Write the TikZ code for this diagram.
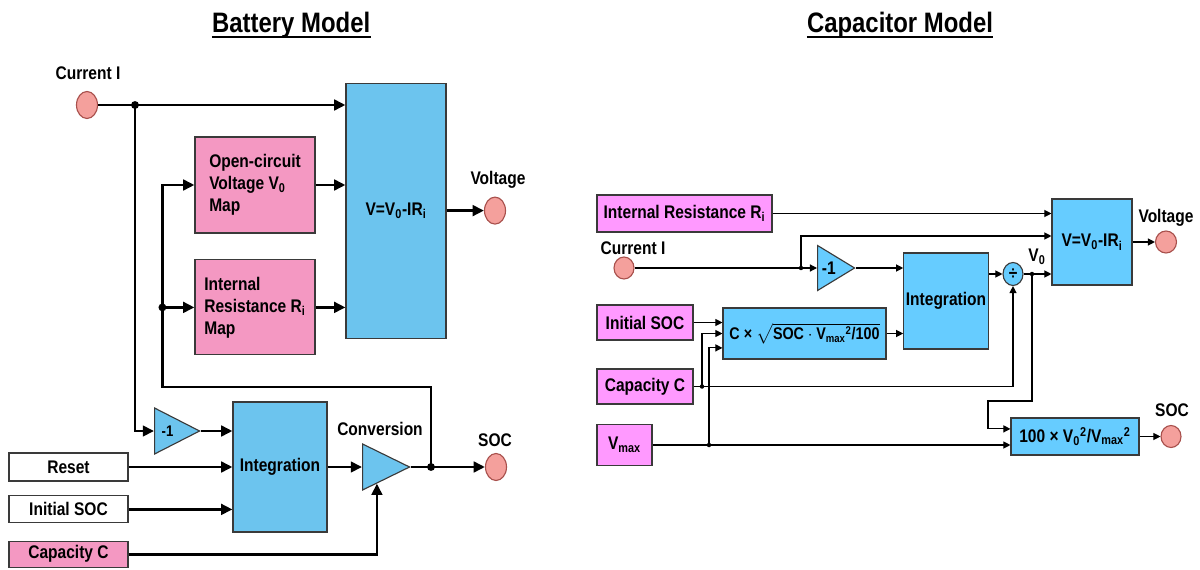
\documentclass[tikz,border=0pt]{standalone}
\usepackage{amsmath}
\usepackage{fontspec}
\setmainfont{Liberation Sans}[FakeStretch=0.85]
\usetikzlibrary{arrows.meta, calc, shapes.geometric}
\definecolor{c1}{HTML}{000000}
\definecolor{c2}{HTML}{3A3A3A}
\definecolor{c3}{HTML}{6CC4EE}
\definecolor{c4}{HTML}{66CCFF}
\definecolor{c5}{HTML}{F498C2}
\definecolor{c6}{HTML}{FF99FF}
\definecolor{c7}{HTML}{F4A09C}
\definecolor{c8}{HTML}{A8504C}

\begin{document}
\begin{tikzpicture}[
    every node/.style={font=\fontsize{13}{15.6}\selectfont\bfseries, text=c1},
    title/.style={font=\fontsize{20}{24}\selectfont\bfseries, inner sep=0pt, anchor=base},
    rule/.style={line width=1.3pt, color=c1},
    lwire/.style={line width=2pt, color=c1},
    larr/.style={lwire, -{Triangle[length=8pt, width=7.5pt]}},
    rwire/.style={line width=0.8pt, color=c1},
    rarr/.style={rwire, -{Triangle[length=5pt, width=5pt]}},
    box/.style={rectangle, draw=c2, line width=0.8pt, inner sep=1.5pt, align=center},
    port/.style={ellipse, draw=c8, fill=c7, line width=0.8pt, inner sep=0pt},
    gain/.style={isosceles triangle, isosceles triangle stretches, draw=c2,
        line width=0.8pt, inner sep=0pt, anchor=west},
]
\useasboundingbox (0, 0) rectangle (30, 14.225);

% ============================================================ battery model
\node[title] (btitle) at (7.28, 13.4) {Battery Model};
\draw[rule] ([yshift=-3pt]btitle.base west) -- ([yshift=-3pt]btitle.base east);

\node[port, minimum width=0.525cm, minimum height=0.675cm] (cur) at (2.175, 11.6) {};
\node (curlab) at (2.2, 12.4) {Current I};

\node[box, fill=c3, minimum width=2.5cm, minimum height=6.375cm] (vbox) at (9.9, 8.96)
    {V=V\textsubscript{0}-IR\textsubscript{i}};
\node[box, fill=c5, minimum width=3.0cm, minimum height=2.4cm, align=left] (ocv) at (6.375, 9.6)
    {Open-circuit\\Voltage V\textsubscript{0}\\Map};
\node[box, fill=c5, minimum width=3.0cm, minimum height=2.375cm, align=left] (irm) at (6.375, 6.54)
    {Internal\\Resistance R\textsubscript{i}\\Map};

\node[port, minimum width=0.525cm, minimum height=0.675cm] (volt) at (12.375, 8.96) {};
\node (voltlab) at (12.45, 9.725) {Voltage};

\node[gain, fill=c3, minimum width=1.15cm, minimum height=1.125cm,
    font=\fontsize{11}{13}\selectfont\bfseries] (gain1) at (3.85, 3.45) {-1};
\node[box, fill=c3, minimum width=2.35cm, minimum height=3.25cm] (integ) at (7.0, 2.55) {Integration};
\node[gain, fill=c3, minimum width=1.15cm, minimum height=1.175cm] (conv) at (9.05, 2.55) {};
\node (convlab) at (9.5, 3.5) {Conversion};

\node[port, minimum width=0.525cm, minimum height=0.675cm] (soc) at (12.4, 2.55) {};
\node (soclab) at (12.375, 3.225) {SOC};

\node[box, fill=white, minimum width=2.975cm, minimum height=0.7cm] (reset) at (1.7125, 2.55) {Reset};
\node[box, fill=white, minimum width=2.975cm, minimum height=0.675cm] (init) at (1.7125, 1.49) {Initial SOC};
\node[box, fill=c5, minimum width=2.975cm, minimum height=0.65cm] (cap) at (1.7125, 0.37) {Capacity C};

% current into the model
\coordinate (jI) at (3.375, 11.6);
\draw[larr] (cur.east) -- (cur.east -| vbox.west);
\draw[larr] (jI) |- (gain1.west);
\draw[larr] (ocv.east) -- (ocv.east -| vbox.west);
\draw[larr] (irm.east) -- (irm.east -| vbox.west);
\draw[larr] (vbox.east) -- (volt.west);

% soc path and its feedback to the maps
\coordinate (jS) at (10.775, 2.55);
\coordinate (fb) at (4.06, 4.55);
\coordinate (jR) at (fb |- irm.west);
\draw[larr] (gain1.east) -- (gain1.east -| integ.west);
\draw[larr] (reset.east) -- (reset.east -| integ.west);
\draw[larr] (init.east) -- (init.east -| integ.west);
\draw[larr] (integ.east) -- (conv.west);
\draw[larr] (cap.east) -| (conv.south);
\draw[lwire] (conv.east) -- (jS);
\draw[larr] (jS) -- (soc.west);
\draw[larr] (jS) |- (fb) |- (ocv.west);
\draw[larr] (jR) -- (irm.west);

\foreach \j in {jI, jR, jS}{
    \fill[c1] (\j) circle (2.8pt);
}

% ============================================================ capacitor model
\node[title] (ctitle) at (22.5, 13.4) {Capacitor Model};
\draw[rule] ([yshift=-3pt]ctitle.base west) -- ([yshift=-3pt]ctitle.base east);

\node[box, fill=c6, minimum width=4.375cm, minimum height=0.925cm] (rRi) at (17.1125, 8.8875)
    {Internal Resistance R\textsubscript{i}};
\node[port, minimum width=0.5cm, minimum height=0.55cm] (rcur) at (15.6, 7.525) {};
\node (rcurlab) at (15.825, 8.025) {Current I};
\node[gain, fill=c4, minimum width=1.125cm, minimum height=0.925cm] (rgain) at (20.425, 7.525) {-1};

\node[box, fill=c4, minimum width=2.0cm, minimum height=2.15cm] (rV) at (27.3, 8.175)
    {V=V\textsubscript{0}-IR\textsubscript{i}};
\node[port, minimum width=0.525cm, minimum height=0.55cm] (rvolt) at (29.15, 8.175) {};
\node (rvoltlab) at (29.15, 8.775) {Voltage};

\node[box, fill=c4, minimum width=2.1cm, minimum height=2.4cm] (rinteg) at (23.65, 6.7) {Integration};
\node[ellipse, draw=c2, fill=c4, line width=0.8pt, inner sep=0pt,
    minimum width=0.5cm, minimum height=0.575cm] (rdiv) at (25.325, 7.375) {÷};
\node (rv0lab) at (25.925, 7.8) {V\textsubscript{0}};

\node[box, fill=c4, minimum width=3.2cm, minimum height=0.925cm] (r100) at (26.875, 3.3125)
    {100 × V\textsubscript{0}\textsuperscript{2}/V\textsubscript{max}\textsuperscript{2}};
\node[port, minimum width=0.5cm, minimum height=0.55cm] (rsoc) at (29.275, 3.3125) {};
\node (rsoclab) at (29.3, 3.975) {SOC};

\node[box, fill=c6, minimum width=2.4cm, minimum height=0.875cm] (rinit) at (16.125, 6.1625) {Initial SOC};
\node[box, fill=c4, minimum width=4.075cm, minimum height=1.275cm,
    font=\fontsize{12}{14}\selectfont\bfseries] (rsqrt) at (20.1125, 5.8875)
    {C × $\sqrt{\text{SOC}\cdot\text{V}_{\text{max}}{}^{\text{2}}\text{/100}}$};
\node[box, fill=c6, minimum width=2.4cm, minimum height=0.875cm] (rcap) at (16.125, 4.5625) {Capacity C};
\node[box, fill=c6, minimum width=1.375cm, minimum height=1.025cm] (rvmax) at (15.6125, 3.1) {V\textsubscript{max}};

% inputs of the voltage block
\coordinate (jr) at (20.025, 7.525);
\draw[rarr] (rRi.east) -- (rRi.east -| rV.west);
\draw[rarr] (rcur.east) -- (rgain.west);
\draw[rarr] (jr) |- ([yshift=0.15cm]rV.west);
\draw[rarr] (rgain.east) -- (rgain.east -| rinteg.west);
\draw[rarr] (rsqrt.east) -- (rsqrt.east -| rinteg.west);
\draw[rarr] (rdiv.west -| rinteg.east) -- (rdiv.west);
\coordinate (jV) at (25.8, 7.375);
\draw[rwire] (rdiv.east) -- (jV);
\draw[rarr] (jV) -- (jV -| rV.west);
\draw[rarr] (rV.east) -- (rvolt.west);

% soc from the capacitor voltage
\coordinate (fb2) at (24.7, 4.2);
\draw[rarr] (jV) |- (fb2) |- ([yshift=0.19cm]r100.west);
\draw[rarr] (r100.east) -- (rsoc.west);

% initial charge
\coordinate (jC) at (17.55, 4.5625);
\coordinate (jM) at (17.725, 3.1);
\draw[rarr] (rinit.east) -- (rinit.east -| rsqrt.west);
\draw[rarr] (rcap.east) -| (rdiv.south);
\draw[rarr] (jC) |- (rsqrt.west);
\draw[rarr] (rvmax.east) -- (rvmax.east -| r100.west);
\draw[rarr] (jM) |- ([yshift=-0.36cm]rsqrt.west);

\foreach \j in {jr, jV, jC, jM}{
    \fill[c1] (\j) circle (1.6pt);
}

\end{tikzpicture}
\end{document}
